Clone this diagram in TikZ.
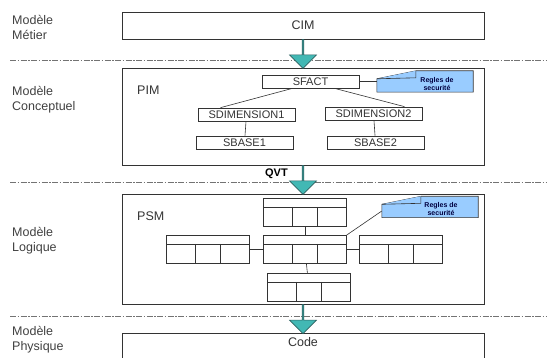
\documentclass[tikz,border=0pt]{standalone}
\usepackage{fontspec}
\setmainfont{Liberation Sans}
\usetikzlibrary{shapes.arrows}

\definecolor{flowfill}{RGB}{66,184,180}
\definecolor{flowline}{RGB}{45,95,95}
\definecolor{notefill}{RGB}{153,204,255}

\tikzset{
  model/.style={draw=black!80, line width=0.8pt, minimum width=362pt, inner sep=0pt, text=black!80},
  entity/.style={draw=black!80, line width=0.7pt, minimum width=97pt, minimum height=13pt, inner sep=0pt, text=black!80, font=\fontsize{11}{12}\selectfont},
  tablebox/.style={draw=black!80, line width=0.8pt, minimum width=83pt, minimum height=28pt, inner sep=0pt, anchor=north west},
  flow/.style={single arrow, draw=flowline, fill=flowfill, line width=0.6pt, single arrow head extend=5pt, minimum width=27pt, shape border rotate=270, inner sep=0pt},
  notebody/.style={minimum width=96pt, minimum height=21pt, inner sep=0pt},
  notetext/.style={align=center, inner sep=0pt, text=blue!25!black, font=\fontsize{7}{8}\selectfont\bfseries},
  notefold/.style={draw=black!80, fill=notefill, line width=0.6pt},
  layer/.style={anchor=west, align=left, inner sep=0pt, text=black!75, font=\fontsize{12.5}{15}\selectfont},
  sepline/.style={black!55, line width=0.6pt, dash pattern=on 6pt off 1.5pt on 1.5pt off 1.5pt},
}

\begin{document}
\begin{tikzpicture}[x=1pt,y=-1pt,font=\fontsize{12.5}{15}\selectfont]
\useasboundingbox (0,0) rectangle (547,358);

% layer names
\node[layer] (metier) at (12,27) {Modèle\\Métier};
\node[layer] (conceptuel) at (12,100) {Modèle\\Conceptuel};
\node[layer] (logique) at (12,241) {Modèle\\Logique};
\node[layer] (physique) at (12,340) {Modèle\\Physique};

% separators
\draw[sepline] (10,60) -- (547,60);
\draw[sepline] (10,182) -- (547,182);
\draw[sepline] (10,316) -- (547,316);

% CIM node
\node[model, minimum height=27pt] (cim) at (303,25.5) {CIM};

% PIM node
\node[model, minimum height=97pt] (pim) at (303,116.5) {};
\node[anchor=west, inner sep=0pt, text=black!80] (pimlabel) at (137,90) {PIM};

% PSM node
\node[model, minimum height=110pt] (psm) at (303,249) {};
\node[anchor=west, inner sep=0pt, text=black!80] (psmlabel) at (137,216) {PSM};

% code node
\node[model, anchor=north, text height=13.5pt, text depth=12.5pt] (code) at (303,333) {Code};

% arrows between models
\path (cim.south) -- (pim.north) node[flow, midway, minimum height=29pt] (arrow1) {};
\path (pim.south) -- (psm.north) node[flow, midway, minimum height=29pt] (arrow2) {};
\path (psm.south) -- (code.north) node[flow, midway, minimum height=29pt] (arrow3) {};
\node[anchor=east, inner sep=0pt, font=\fontsize{11}{12}\selectfont\bfseries] (qvt) at (288,174) {QVT};

% PIM entities
\node[entity] (sfact) at (310.5,81.5) {SFACT};
\node[entity] (sdim1) at (246.5,114.5) {SDIMENSION1};
\node[entity] (sdim2) at (373.5,113.5) {SDIMENSION2};
\node[entity] (sbase1) at (244.5,142.5) {SBASE1};
\node[entity] (sbase2) at (375.5,142.5) {SBASE2};

\draw[black!80, line width=0.6pt] ([xshift=-18pt]sfact.south) -- ([xshift=-26pt]sdim1.north);
\draw[black!80, line width=0.6pt] ([xshift=24pt]sfact.south) -- ([xshift=31pt]sdim2.north);
\draw[black!80, line width=0.6pt] (sdim1) -- (sbase1);
\draw[black!80, line width=0.6pt] (sdim2) -- (sbase2);

% PIM security note
\node[notebody] (note1) at (425,81.5) {};
\draw[notefold] (note1.south west) -- ([yshift=-8pt]note1.north west) -- ([xshift=39pt]note1.north west) -- (note1.north east) -- (note1.south east) -- cycle;
\draw[notefold] ([yshift=-8pt]note1.north west) -- ([xshift=39pt,yshift=-7pt]note1.north west) -- ([xshift=39pt]note1.north west);
\node[notetext] (note1text) at (437,84) {Regles de\\securité};
\draw[black!80, line width=0.6pt] (sfact.east) -- (sfact.east -| note1.west);

% PSM tables
\node[tablebox] (ttop) at (263,198) {};
\node[tablebox] (tmid) at (263,235) {};
\node[tablebox] (tleft) at (166,235) {};
\node[tablebox] (tright) at (359,235) {};
\node[tablebox] (tbot) at (267,273) {};

\draw[black!80, line width=0.8pt] (ttop.north west) ++(0,9) -- ++(83,0);
\draw[black!80, line width=0.8pt] (ttop.north west) ++(29,9) -- ++(0,19);
\draw[black!80, line width=0.8pt] (ttop.north west) ++(54,9) -- ++(0,19);

\draw[black!80, line width=0.8pt] (tmid.north west) ++(0,9) -- ++(83,0);
\draw[black!80, line width=0.8pt] (tmid.north west) ++(29,9) -- ++(0,19);
\draw[black!80, line width=0.8pt] (tmid.north west) ++(54,9) -- ++(0,19);

\draw[black!80, line width=0.8pt] (tleft.north west) ++(0,9) -- ++(83,0);
\draw[black!80, line width=0.8pt] (tleft.north west) ++(29,9) -- ++(0,19);
\draw[black!80, line width=0.8pt] (tleft.north west) ++(54,9) -- ++(0,19);

\draw[black!80, line width=0.8pt] (tright.north west) ++(0,9) -- ++(83,0);
\draw[black!80, line width=0.8pt] (tright.north west) ++(29,9) -- ++(0,19);
\draw[black!80, line width=0.8pt] (tright.north west) ++(54,9) -- ++(0,19);

\draw[black!80, line width=0.8pt] (tbot.north west) ++(0,9) -- ++(83,0);
\draw[black!80, line width=0.8pt] (tbot.north west) ++(29,9) -- ++(0,19);
\draw[black!80, line width=0.8pt] (tbot.north west) ++(54,9) -- ++(0,19);

\draw[black!80, line width=0.6pt] (ttop) -- (tmid);
\draw[black!80, line width=0.6pt] (tleft) -- (tmid);
\draw[black!80, line width=0.6pt] (tmid) -- (tright);
\draw[black!80, line width=0.6pt] (tmid) -- (tbot);

% PSM security note
\node[notebody] (note2) at (430,207) {};
\draw[notefold] (note2.south west) -- ([yshift=-8pt]note2.north west) -- ([xshift=39pt]note2.north west) -- (note2.north east) -- (note2.south east) -- cycle;
\draw[notefold] ([yshift=-8pt]note2.north west) -- ([xshift=39pt,yshift=-7pt]note2.north west) -- ([xshift=39pt]note2.north west);
\node[notetext] (note2text) at (441,209) {Regles de\\securité};
\draw[black!80, line width=0.6pt] (tmid.north east) -- ([yshift=-4pt]note2.west);

\end{tikzpicture}
\end{document}
